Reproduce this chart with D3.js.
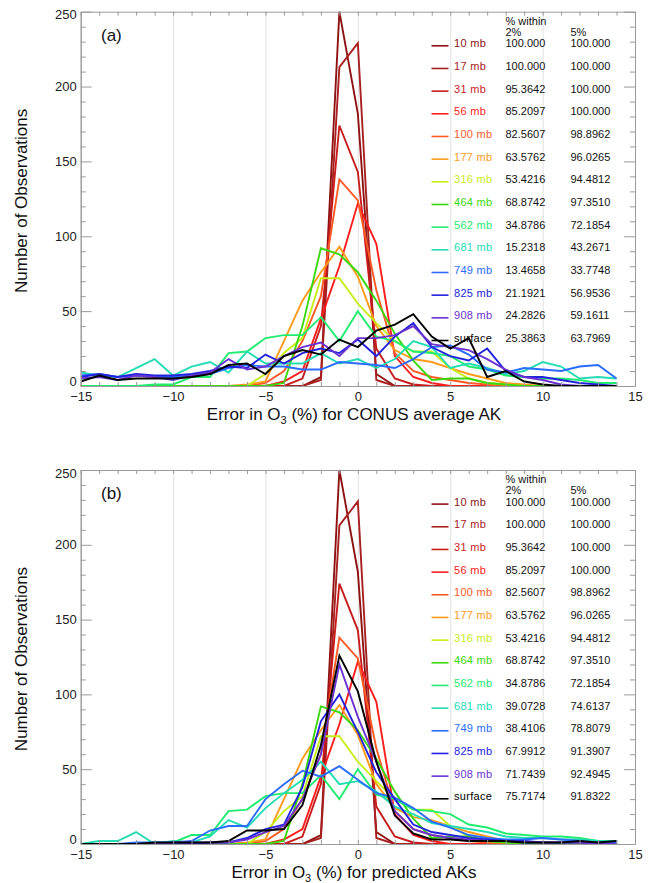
<!DOCTYPE html>
<html>
<head>
<meta charset="utf-8">
<script src="https://cdn.jsdelivr.net/npm/d3@7"></script>
<style>
  html, body { margin: 0; padding: 0; background: #fff; }
  svg { display: block; font-family: "Liberation Sans", Arial, sans-serif; }
</style>
</head>
<body>
<svg id="chart" width="653" height="883"></svg>
<script>
// ---------------- DATA ----------------
const bins = [-15,-14,-13,-12,-11,-10,-9,-8,-7,-6,-5,-4,-3,-2,-1,0,1,2,3,4,5,6,7,8,9,10,11,12,13,14];
const levels = ["10 mb","17 mb","31 mb","56 mb","100 mb","177 mb","316 mb","464 mb","562 mb","681 mb","749 mb","825 mb","908 mb","surface"];
const colors = ["#8e1212","#a82020","#c81c1c","#ff1c1c","#ff5a26","#ff9a1a","#c6ee1a","#3ad80c","#22ec70","#22dcb4","#2a6cff","#2222de","#6a32d0","#000000"];
const xTicks = [-15,-10,-5,0,5,10,15];
const yTicks = [0,50,100,150,200,250];
const panelLabels = ["(a)","(b)"];
const xTitles = ["for CONUS average AK","for predicted AKs"];

// Common (identical in both panels)
const s10  = [0,0,0,0,0,0,0,0,0,0,0,0,0,6,250,182,8,0,0,0,0,0,0,0,0,0,0,0,0,0];
const s17  = [0,0,0,0,0,0,0,0,0,0,0,0,0,4,213,229,4,0,0,0,0,0,0,0,0,0,0,0,0,0];
const s31  = [0,0,0,0,0,0,0,0,0,0,0,0,5,40,174,143,25,5,1,0,0,0,0,0,0,0,0,0,0,0];
const s56  = [0,0,0,0,0,0,0,0,0,0,0,3,10,45,80,122,95,20,6,2,0,0,0,0,0,0,0,0,0,0];
const s100 = [0,0,0,0,0,0,0,0,0,0,2,10,30,60,138,124,64,22,10,6,4,2,1,0,0,0,0,0,0,0];
const s177 = [0,0,0,0,0,0,0,0,0,1,3,30,57,76,93,73,40,24,18,16,12,8,5,2,1,0,0,0,0,0];
const s316 = [0,0,0,0,0,0,0,0,0,0,8,22,32,72,72,55,42,30,23,23,12,5,2,1,0,0,0,0,0,0];
const s464 = [0,0,0,0,0,0,0,0,0,0,0,2,40,92,88,76,57,35,17,4,5,5,2,1,0,0,0,0,0,0];
const s562 = [0,0,0,0,1,1,6,6,22,23,32,34,34,46,30,50,33,30,23,22,20,13,11,7,6,5,5,4,2,2];

// Panel (a) only
const a681 = [9,7,6,12,18,7,13,16,9,23,15,15,15,22,15,18,12,18,30,26,12,15,12,8,10,16,13,5,6,5];
const a749 = [7,8,6,7,6,6,7,8,12,14,13,13,11,11,16,15,14,12,18,26,27,21,11,9,12,11,10,13,14,5];
const a825 = [6,8,6,8,7,7,8,10,13,12,21,15,22,25,22,31,20,33,42,26,20,17,25,10,6,6,4,2,1,0];
const a908 = [5,6,4,7,6,4,7,9,18,11,13,20,26,29,20,32,32,34,40,28,26,24,18,11,6,4,1,0,0,0];
const aSfc = [3,7,4,5,5,5,6,8,14,15,8,20,24,21,31,26,37,41,48,33,25,32,6,10,3,1,0,0,0,0];

// Panel (b) only
const b681 = [0,2,2,8,0,2,1,5,16,11,24,34,43,55,40,42,35,25,20,14,12,10,8,5,4,4,3,3,2,2];
const b749 = [0,0,0,1,1,1,2,9,12,12,30,40,49,45,52,43,34,31,24,15,11,6,4,3,3,4,3,2,1,1];
const b825 = [0,0,0,0,0,0,0,1,1,4,10,13,38,82,100,75,48,30,13,8,6,4,3,2,2,1,1,1,0,0];
const b908 = [0,0,0,0,0,1,1,1,1,3,8,12,30,60,120,85,55,22,10,6,4,3,2,2,1,1,1,1,0,0];
const bSfc = [0,0,0,0,1,1,1,1,2,9,9,10,26,66,126,102,55,19,7,3,3,2,2,2,1,1,1,2,1,2];

const within2a = ["100.000","100.000","95.3642","85.2097","82.5607","63.5762","53.4216","68.8742","34.8786","15.2318","13.4658","21.1921","24.2826","25.3863"];
const within5a = ["100.000","100.000","100.000","100.000","98.8962","96.0265","94.4812","97.3510","72.1854","43.2671","33.7748","56.9536","59.1611","63.7969"];
const within2b = ["100.000","100.000","95.3642","85.2097","82.5607","63.5762","53.4216","68.8742","34.8786","39.0728","38.4106","67.9912","71.7439","75.7174"];
const within5b = ["100.000","100.000","100.000","100.000","98.8962","96.0265","94.4812","97.3510","72.1854","74.6137","78.8079","91.3907","92.4945","91.8322"];

const panelSeries = [
  [s10,s17,s31,s56,s100,s177,s316,s464,s562,a681,a749,a825,a908,aSfc],
  [s10,s17,s31,s56,s100,s177,s316,s464,s562,b681,b749,b825,b908,bSfc]
];
const panelStats = [[within2a,within5a],[within2b,within5b]];

// ---------------- LAYOUT ----------------
const svg = d3.select("#chart");
const left = 80.7, right = 635;
const panels = [{top: 11.7, bottom: 386}, {top: 470, bottom: 844}];
const x = d3.scaleLinear().domain([-15, 15]).range([left, right]);
const minorX = d3.range(-15, 16, 1);
const minorY = d3.range(0, 251, 10);

panels.forEach((p, pi) => {
  const y = d3.scaleLinear().domain([0, 250]).range([p.bottom, p.top]);
  const g = svg.append("g");
  const h = p.bottom - p.top;

  // vertical grid at major x ticks
  g.append("g").attr("transform", `translate(0,${p.bottom})`)
    .call(d3.axisBottom(x).tickValues(xTicks.slice(1, -1)).tickSize(-h).tickFormat(""))
    .call(s => { s.select(".domain").remove(); s.selectAll("line").attr("stroke", "#e2e2e2").attr("stroke-width", 1); });

  // clip
  const cid = "clip" + pi;
  svg.append("clipPath").attr("id", cid).append("rect")
    .attr("x", left).attr("y", p.top - 1).attr("width", right - left).attr("height", h + 1);

  // lines
  const line = d3.line().x((d, i) => x(bins[i])).y(d => y(d));
  const lg = g.append("g").attr("clip-path", `url(#${cid})`);
  const ser = panelSeries[pi];
  ser.forEach((vals, si) => {
    lg.append("path").datum(vals)
      .attr("d", line)
      .attr("fill", "none")
      .attr("stroke", colors[si])
      .attr("stroke-width", 1.9)
      .attr("stroke-linejoin", "miter");
  });

  // frame & ticks
  const frameCol = "#9a9a9a";
  const styleAxis = s => {
    s.select(".domain").attr("stroke", frameCol);
    s.selectAll(".tick line").attr("stroke", frameCol);
    s.selectAll(".tick text").attr("fill", "#222").attr("font-size", 13);
  };
  // bottom: labels + minor ticks
  g.append("g").attr("transform", `translate(0,${p.bottom})`)
    .call(d3.axisBottom(x).tickValues(minorX).tickSize(-4).tickSizeOuter(0).tickFormat(""))
    .call(styleAxis);
  g.append("g").attr("transform", `translate(0,${p.bottom})`)
    .call(d3.axisBottom(x).tickValues(xTicks).tickSize(0).tickPadding(6)
      .tickFormat(d => (d < 0 ? "\u2212" + Math.abs(d) : d)))
    .call(styleAxis).call(s => s.select(".domain").remove());
  // top
  g.append("g").attr("transform", `translate(0,${p.top})`)
    .call(d3.axisTop(x).tickValues(minorX).tickSize(-4).tickSizeOuter(0).tickFormat(""))
    .call(styleAxis);
  // left
  g.append("g").attr("transform", `translate(${left},0)`)
    .call(d3.axisLeft(y).tickValues(minorY.filter(v => v % 50 !== 0)).tickSize(-5).tickSizeOuter(0).tickFormat(""))
    .call(styleAxis);
  g.append("g").attr("transform", `translate(${left},0)`)
    .call(d3.axisLeft(y).tickValues(yTicks).tickSize(-11).tickSizeOuter(0).tickPadding(4))
    .call(styleAxis)
    .call(s => s.selectAll(".tick text").attr("x", -4)
      .attr("dy", d => d === 0 ? "-0.05em" : (d === 250 ? "0.55em" : "0.32em")));
  // right
  g.append("g").attr("transform", `translate(${right},0)`)
    .call(d3.axisRight(y).tickValues(minorY.filter(v => v % 50 !== 0)).tickSize(-5).tickSizeOuter(0).tickFormat(""))
    .call(styleAxis);
  g.append("g").attr("transform", `translate(${right},0)`)
    .call(d3.axisRight(y).tickValues(yTicks).tickSize(-11).tickSizeOuter(0).tickFormat(""))
    .call(styleAxis);

  // y title
  g.append("text")
    .attr("transform", `translate(27,${(p.top + p.bottom) / 2 + 2}) rotate(-90)`)
    .attr("text-anchor", "middle").attr("font-size", 17).attr("fill", "#111")
    .text("Number of Observations");

  // x title
  const xt = g.append("text").attr("x", 354).attr("y", p.bottom + 34)
    .attr("text-anchor", "middle").attr("font-size", 17).attr("fill", "#111");
  xt.append("tspan").text("Error in O");
  xt.append("tspan").attr("font-size", 11).attr("dy", 4).text("3");
  xt.append("tspan").attr("dy", -4).text(" (%) " + xTitles[pi]);

  // panel label
  g.append("text").attr("x", 101).attr("y", p.top + 29)
    .attr("font-size", 17).attr("fill", "#111").text(panelLabels[pi]);

  // legend
  const [w2, w5] = panelStats[pi];
  const lgd = g.append("g").attr("font-size", 11);
  lgd.append("text").attr("x", 505.5).attr("y", p.top + 9.6).attr("dy", "0.35em").attr("fill", "#111").text("% within");
  lgd.append("text").attr("x", 505.5).attr("y", p.top + 20.4).attr("dy", "0.35em").attr("fill", "#111").text("2%");
  lgd.append("text").attr("x", 570.5).attr("y", p.top + 20.4).attr("dy", "0.35em").attr("fill", "#111").text("5%");
  levels.forEach((lv, i) => {
    const cy = p.top + 31.8 + i * 22.67;
    lgd.append("line").attr("x1", 431.5).attr("x2", 448.5).attr("y1", cy + 2.3).attr("y2", cy + 2.3)
      .attr("stroke", colors[i]).attr("stroke-width", 1.6);
    lgd.append("text").attr("x", 454).attr("y", cy).attr("dy", "0.35em").attr("fill", colors[i])
      .attr("letter-spacing", 0.3).text(lv);
    lgd.append("text").attr("x", 505.5).attr("y", cy).attr("dy", "0.35em").attr("fill", "#111").text(w2[i]);
    lgd.append("text").attr("x", 570.5).attr("y", cy).attr("dy", "0.35em").attr("fill", "#111").text(w5[i]);
  });
});
</script>
</body>
</html>
